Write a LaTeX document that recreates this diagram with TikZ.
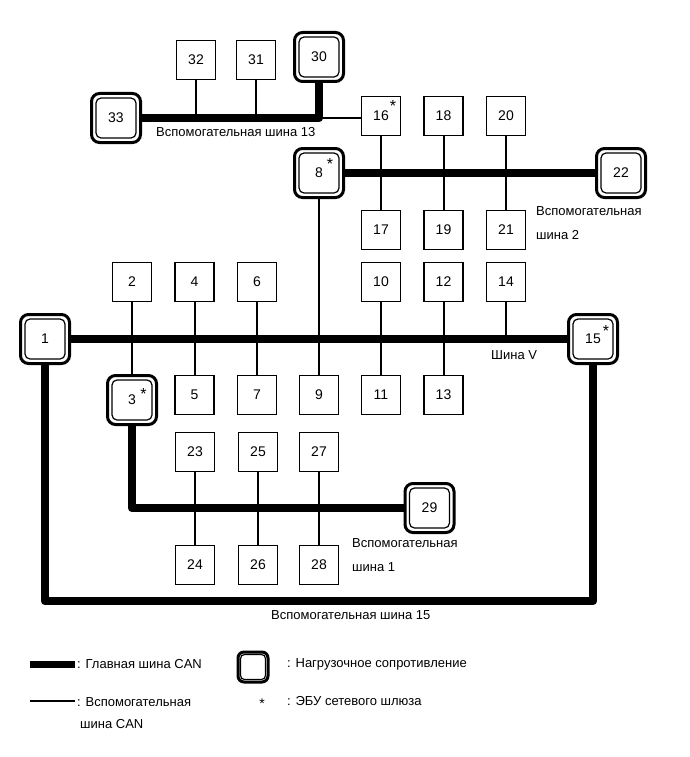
\documentclass[tikz,border=0pt]{standalone}
\usepackage{fontspec}
\setmainfont{Liberation Sans}
\usetikzlibrary{positioning}

\begin{document}
\begin{tikzpicture}[x=1pt, y=-1pt, every node/.style={font=\fontsize{14}{16}\selectfont}]
    \tikzstyle{ecu} = [draw, rectangle, fill=white, minimum size=39pt, inner sep=0pt, line width=1.2pt]
    \tikzstyle{term} = [draw, rectangle, fill=white, minimum size=49pt, inner sep=0pt, rounded corners=8pt, line width=3pt]
    \tikzstyle{inner} = [draw, rounded corners=5pt, line width=1.2pt]
    \tikzstyle{mainbus} = [line width=8.5pt, line join=round]
    \tikzstyle{subbus} = [line width=2pt]
    \tikzstyle{busname} = [anchor=west, inner sep=0pt, align=left, font=\fontsize{13}{24}\selectfont]
    \tikzstyle{gwmark} = [anchor=north, inner sep=0pt, font=\fontsize{16}{16}\selectfont]

    \useasboundingbox (0,0) rectangle (690,757);

    % Sub bus 13
    \node (ecu33) [term] at (116,118) {33};
    \node (ecu32) [ecu] at (196,60) {32};
    \node (ecu31) [ecu] at (256,60) {31};
    \node (ecu30) [term] at (319,57) {30};

    % Sub bus 2
    \node (ecu16) [ecu] at (381,116) {16};
    \node (ecu18) [ecu] at (443.5,116) {18};
    \node (ecu20) [ecu] at (506,116) {20};
    \node (ecu8) [term] at (319,173) {8};
    \node (ecu22) [term] at (621,173) {22};
    \node (ecu17) [ecu] at (381,230) {17};
    \node (ecu19) [ecu] at (443.5,230) {19};
    \node (ecu21) [ecu] at (506,230) {21};

    % Bus V
    \node (ecu2) [ecu] at (132,282) {2};
    \node (ecu4) [ecu] at (194.5,282) {4};
    \node (ecu6) [ecu] at (257,282) {6};
    \node (ecu10) [ecu] at (381,282) {10};
    \node (ecu12) [ecu] at (443.5,282) {12};
    \node (ecu14) [ecu] at (506,282) {14};
    \node (ecu1) [term] at (45,339) {1};
    \node (ecu15) [term] at (593,339) {15};
    \node (ecu3) [term] at (132,400) {3};
    \node (ecu5) [ecu] at (194.5,395) {5};
    \node (ecu7) [ecu] at (257,395) {7};
    \node (ecu9) [ecu] at (319,395) {9};
    \node (ecu11) [ecu] at (381,395) {11};
    \node (ecu13) [ecu] at (443.5,395) {13};

    % Sub bus 1
    \node (ecu23) [ecu] at (195,452) {23};
    \node (ecu25) [ecu] at (258,452) {25};
    \node (ecu27) [ecu] at (319,452) {27};
    \node (ecu29) [term] at (429.5,508) {29};
    \node (ecu24) [ecu] at (195,565) {24};
    \node (ecu26) [ecu] at (258,565) {26};
    \node (ecu28) [ecu] at (319,565) {28};

    % Terminating resistors
    \foreach \n in {1,3,8,15,22,29,30,33}
        \draw [inner] ([shift={(6pt,6pt)}]ecu\n.south west) rectangle ([shift={(-6pt,-6pt)}]ecu\n.north east);

    % Gateway marks
    \node (gw16) [gwmark] at (393,100) {*};
    \node (gw8) [gwmark] at (330,158) {*};
    \node (gw3) [gwmark] at (143.5,388) {*};
    \node (gw15) [gwmark] at (606,325) {*};

    % Buses
    \coordinate (j13) at (ecu30.south |- ecu33.east);
    \coordinate (b15) at (319,601);
    \draw [mainbus] (ecu33.east) -- (j13) -- (ecu30.south);
    \draw [mainbus] (ecu8) -- (ecu22);
    \draw [mainbus] (ecu1) -- (ecu15);
    \draw [mainbus] (ecu1.south) |- (b15) -| (ecu15.south);
    \draw [mainbus] (ecu3.south) |- (ecu29.west);

    % Stubs
    \draw [subbus] (j13) -- (j13 -| ecu16.west);
    \draw [subbus] (ecu32) -- (ecu32 |- j13);
    \draw [subbus] (ecu31) -- (ecu31 |- j13);
    \draw [subbus] (ecu14) -- (ecu14 |- ecu1);
    \foreach \a/\b in {16/17, 18/19, 20/21, 8/9, 2/3, 4/5, 6/7, 10/11, 12/13, 23/24, 25/26, 27/28}
        \draw [subbus] (ecu\a) -- (ecu\b);

    % Bus names
    \node (lbl13) [busname] at (156,132) {Вспомогательная шина 13};
    \node (lbl2) [busname] at (536,223) {Вспомогательная\\шина 2};
    \node (lblV) [busname] at (491,355) {Шина V};
    \node (lbl1) [busname] at (352,555) {Вспомогательная\\шина 1};
    \node (lbl15) [busname] at (271,615) {Вспомогательная шина 15};

    % Legend
    \coordinate (keyA) at (30,664);
    \coordinate (keyB) at (75,664);
    \coordinate (keyC) at (30,701);
    \coordinate (keyD) at (75,701);
    \draw [line width=7pt] (keyA) -- (keyB);
    \draw [subbus] (keyC) -- (keyD);
    \node (keymain) [busname] at (77,664) {: Главная шина CAN};
    \node (keysub) [busname] at (77,702) {: Вспомогательная};
    \node (keysub2) [busname] at (80,724) {шина CAN};
    \node (keyterm) [term, minimum size=30pt, rounded corners=6pt] at (253,667) {};
    \draw [inner, rounded corners=4pt] ([shift={(4pt,4pt)}]keyterm.south west) rectangle ([shift={(-4pt,-4pt)}]keyterm.north east);
    \node (keytermtxt) [busname] at (287,664) {: Нагрузочное сопротивление};
    \node (keygw) [gwmark, font=\fontsize{14}{14}\selectfont] at (262,699) {*};
    \node (keygwtxt) [busname] at (287,701) {: ЭБУ сетевого шлюза};
\end{tikzpicture}
\end{document}
